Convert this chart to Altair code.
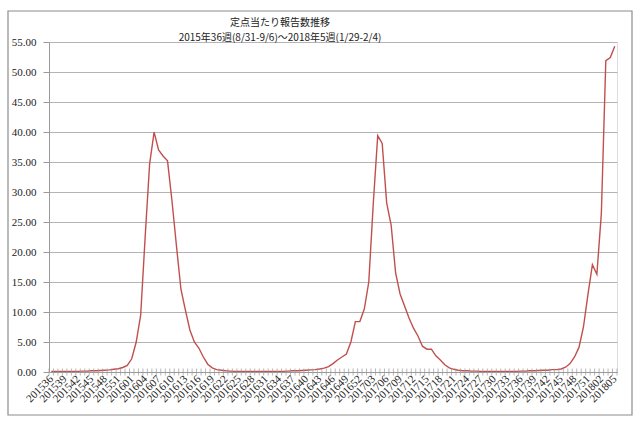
import altair as alt
import pandas as pd

# Category labels (year+week)
weeks = ([f"2015{w:02d}" for w in range(36, 54)] +
         [f"2016{w:02d}" for w in range(1, 53)] +
         [f"2017{w:02d}" for w in range(1, 53)] +
         [f"2018{w:02d}" for w in range(1, 6)])

# Reports per sentinel
v2015 = [0.10, 0.10, 0.10, 0.10, 0.10, 0.10, 0.10, 0.15, 0.15, 0.20, 0.20, 0.25,
         0.30, 0.35, 0.45, 0.55, 0.75, 1.10]
v2016 = [2.2, 5.0, 9.5, 22.5, 34.7, 39.97, 37.0, 36.0, 35.2, 28.5, 21.0, 13.8,
         10.3, 7.0, 5.0, 4.0, 2.5, 1.3, 0.7, 0.4, 0.3, 0.2, 0.15, 0.1,
         0.1, 0.1, 0.1, 0.1, 0.1, 0.1, 0.1, 0.1, 0.1, 0.1, 0.1,
         0.15, 0.2, 0.2, 0.25, 0.3, 0.35, 0.4, 0.5, 0.65, 0.9, 1.4, 2.0, 2.5,
         3.0, 5.0, 8.4, 8.4]
v2017 = [10.5, 15.0, 28.0, 39.4, 38.1, 28.2, 24.5, 16.5, 13.0, 11.0, 9.0, 7.3,
         6.0, 4.3, 3.8, 3.8, 2.7, 2.0, 1.2, 0.7, 0.45, 0.3, 0.2, 0.2,
         0.15, 0.15, 0.1, 0.1, 0.1, 0.1, 0.1, 0.1, 0.1, 0.1, 0.1,
         0.15, 0.15, 0.2, 0.2, 0.25, 0.3, 0.3, 0.4, 0.4, 0.5, 0.8, 1.4, 2.5,
         4.1, 7.5, 12.9, 17.9]
v2018 = [16.3, 26.4, 51.9, 52.4, 54.3]

values = v2015 + v2016 + v2017 + v2018
y_ticks = [0, 5, 10, 15, 20, 25, 30, 35, 40, 45, 50, 55]
title_lines = ["定点当たり報告数推移", "2015年36週(8/31-9/6)～2018年5週(1/29-2/4)"]

n = len(weeks)
df = pd.DataFrame({"idx": list(range(n)), "week": weeks, "value": values})
bounds = pd.DataFrame({"b": [i - 0.5 for i in range(n + 1)]})

label_expr = "[" + ",".join(f"'{w}'" for w in weeks) + "][datum.value]"

GRAY = "#9a9a9a"
xscale = alt.Scale(domain=[-0.5, n - 0.5], nice=False, zero=False)
yscale = alt.Scale(domain=[0, 55], nice=False)

xaxis = alt.Axis(values=list(range(0, n, 3)), labelExpr=label_expr,
                 ticks=False, grid=False, domainColor=GRAY, title=None,
                 labelAngle=-45, labelAlign="right", labelBaseline="middle",
                 labelFont="Liberation Serif", labelFontSize=11,
                 labelColor="#222", labelPadding=5, labelOverlap=False,
                 labelFlush=False, labelBound=False)
yaxis = alt.Axis(values=y_ticks, format=".2f", grid=True, gridColor="#b4b4b4",
                 domainColor=GRAY, tickColor=GRAY, tickSize=6, title=None,
                 labelOverlap=False,
                 labelFont="Liberation Serif", labelFontSize=11,
                 labelColor="#222", labelPadding=7)

line = alt.Chart(df).mark_line(color="#c0504d", strokeWidth=1.4).encode(
    x=alt.X("idx:Q", scale=xscale, axis=xaxis),
    y=alt.Y("value:Q", scale=yscale, axis=yaxis),
)

ticks = alt.Chart(bounds).mark_tick(orient="vertical", size=7, thickness=1, color=GRAY).encode(
    x=alt.X("b:Q", scale=xscale, axis=xaxis),
    y=alt.YDatum(0, scale=yscale, axis=yaxis),
)

frame = alt.Chart(pd.DataFrame({"a": [0]})).mark_rect(
    fill="white", fillOpacity=0, stroke="#8c8c8c", strokeWidth=1.2, clip=False
).encode(
    x=alt.value(-41), x2=alt.value(583), y=alt.value(-31), y2=alt.value(373)
)

chart = alt.layer(line, ticks, frame).properties(
    width=568, height=330,
    autosize=alt.AutoSizeParams(type="none"),
    padding={"left": 49, "top": 42, "right": 23, "bottom": 54},
    title=alt.TitleParams(text=title_lines, anchor="middle", dx=-53, offset=-33,
                          font="Noto Sans CJK JP", fontSize=10, fontWeight="normal",
                          color="#222", lineHeight=15),
).configure_view(stroke=None).configure(background="white")

chart.save("out.html", embed_options={"renderer": "svg", "actions": False})
